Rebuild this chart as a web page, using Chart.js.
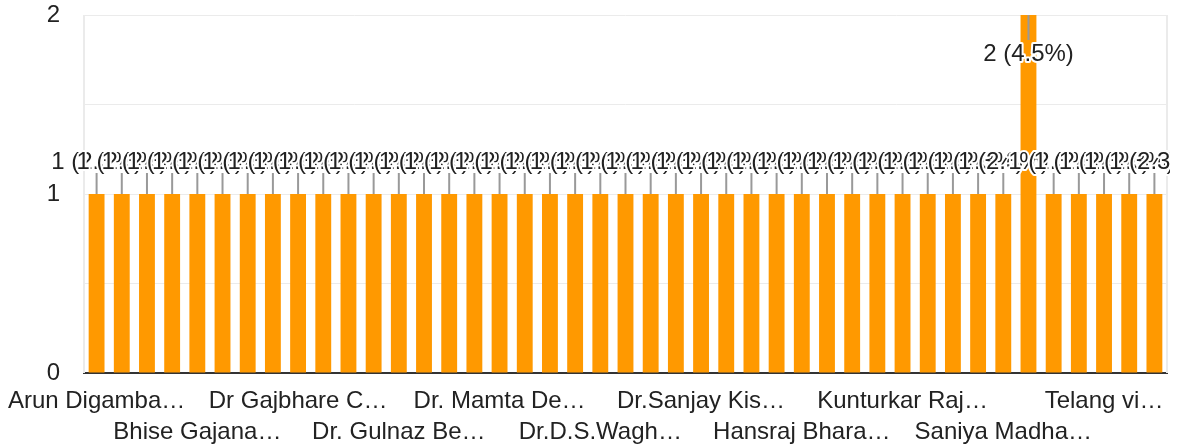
<!DOCTYPE html>
<html>
<head>
<meta charset="utf-8">
<script src="https://cdn.jsdelivr.net/npm/chart.js@4.4.0/dist/chart.umd.min.js"></script>
<style>
  html, body { margin: 0; padding: 0; background: #fff; }
  #wrap { width: 1177px; height: 448px; }
</style>
</head>
<body>
<div id="wrap"><canvas id="responses"></canvas></div>
<script>
// one bar per respondent name, sorted A-Z; one name got two responses
var counts = [1, 1, 1, 1, 1, 1, 1, 1, 1, 1,
              1, 1, 1, 1, 1, 1, 1, 1, 1, 1,
              1, 1, 1, 1, 1, 1, 1, 1, 1, 1,
              1, 1, 1, 1, 1, 1, 1, 2, 1, 1,
              1, 1, 1];

// only every 4th name is printed under the axis
var tickLabels = ['Arun Digamba…', 'Bhise Gajana…', 'Dr Gajbhare C…', 'Dr. Gulnaz Be…',
                  'Dr. Mamta De…', 'Dr.D.S.Wagh…', 'Dr.Sanjay Kis…', 'Hansraj Bhara…',
                  'Kunturkar Raj…', 'Saniya Madha…', 'Telang vi…'];
var labelEvery = 4;
var yLabels = [0, 1, 2];

var FONT = '"Liberation Sans", Arial, sans-serif';
var total = counts.reduce(function (a, b) { return a + b; }, 0);
var categories = counts.map(function (c, i) {
    return i % labelEvery === 0 ? tickLabels[i / labelEvery] : '';
});

// light frame on left/right of plot area
var frame = {
    id: 'frame',
    beforeDatasetsDraw: function (chart) {
        var c = chart.ctx, a = chart.chartArea;
        c.save();
        c.strokeStyle = '#ebebeb';
        c.lineWidth = 2;
        c.beginPath();
        c.moveTo(a.left, a.top); c.lineTo(a.left, a.bottom);
        c.moveTo(a.right, a.top); c.lineTo(a.right, a.bottom);
        c.stroke();
        c.restore();
    }
};

// "n (x%)" labels with a little gray leader line
var annotate = {
    id: 'annotate',
    afterDatasetsDraw: function (chart) {
        var c = chart.ctx, area = chart.chartArea;
        var bars = chart.getDatasetMeta(0).data;
        c.save();
        c.beginPath();
        c.rect(0, 0, area.right + 3, chart.height);
        c.clip();
        c.font = '24px ' + FONT;
        c.textAlign = 'center';
        c.textBaseline = 'middle';
        c.lineJoin = 'round';
        bars.forEach(function (bar, i) {
            var v = counts[i];
            var text = v + ' (' + (v / total * 100).toFixed(1) + '%)';
            var inside = bar.y <= area.top + 1;
            c.strokeStyle = '#999';
            c.lineWidth = 2;
            c.beginPath();
            c.moveTo(bar.x, bar.y);
            c.lineTo(bar.x, inside ? bar.y + 25 : bar.y - 21);
            c.stroke();
            var ty = inside ? bar.y + 39 : bar.y - 32;
            c.strokeStyle = '#fff';
            c.lineWidth = 4;
            c.strokeText(text, bar.x, ty);
            c.fillStyle = '#222';
            c.fillText(text, bar.x, ty);
        });
        c.restore();
    }
};

new Chart(document.getElementById('responses'), {
    type: 'bar',
    data: {
        labels: categories,
        datasets: [{
            data: counts,
            backgroundColor: '#ff9900',
            categoryPercentage: 1,
            barPercentage: 0.63
        }]
    },
    plugins: [frame, annotate],
    options: {
        responsive: true,
        maintainAspectRatio: false,
        animation: false,
        layout: { padding: { top: 15, right: 10, left: 0, bottom: 0 } },
        plugins: {
            legend: { display: false },
            tooltip: { enabled: false }
        },
        scales: {
            x: {
                grid: { display: false },
                border: { color: '#333', width: 2 },
                ticks: {
                    autoSkip: false,
                    maxRotation: 0,
                    minRotation: 0,
                    padding: 5,
                    color: '#222',
                    font: { size: 24, family: FONT, lineHeight: 1.3 },
                    callback: function (v, i) {
                        if (i % labelEvery !== 0) return '';
                        var k = i / labelEvery;
                        return k % 2 === 0 ? categories[i] : ['', categories[i]];
                    }
                },
                afterFit: function (s) { s.height = 75; s.paddingLeft = 0; s.paddingRight = 0; }
            },
            y: {
                min: 0,
                max: 2,
                grid: { color: '#ebebeb', drawTicks: false },
                border: { display: false },
                ticks: {
                    stepSize: 0.5,
                    padding: 24,
                    color: '#222',
                    font: { size: 24, family: FONT },
                    callback: function (v) { return yLabels.indexOf(v) >= 0 ? v : ''; }
                },
                afterFit: function (s) { s.width = 84; s.paddingTop = 0; s.paddingBottom = 0; }
            }
        }
    }
});
</script>
</body>
</html>
